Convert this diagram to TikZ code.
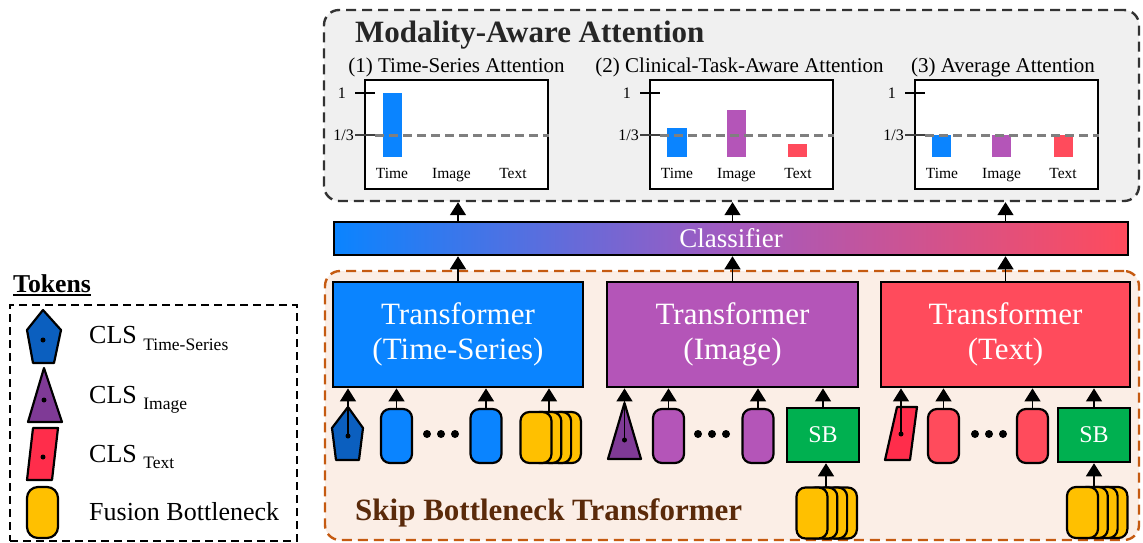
\documentclass[tikz,border=0pt]{standalone}
\usepackage{fontspec}
\setmainfont{Liberation Serif}
\usetikzlibrary{arrows.meta,calc}
\definecolor{tsblue}{HTML}{0A84FF}
\definecolor{impurple}{HTML}{B455B8}
\definecolor{txred}{HTML}{FF4B5C}
\definecolor{pentblue}{HTML}{0B5FBF}
\definecolor{tripurple}{HTML}{7F3A96}
\definecolor{parared}{HTML}{FF2D4B}
\definecolor{fbyellow}{HTML}{FFC000}
\definecolor{sbgreen}{HTML}{00B050}
\definecolor{mabg}{HTML}{F0F0F0}
\definecolor{sbtbg}{HTML}{FBEEE6}
\definecolor{sbtline}{HTML}{C55A11}
\definecolor{sbttext}{HTML}{5A2A0A}
\definecolor{dashgray}{HTML}{7F7F7F}
\newcommand{\fsz}[1]{\fontsize{#1}{#1}\selectfont}
\newcommand{\attchart}[2]{%
  \node[chartbox] (#1) at (#2+91.5,134) {};
}
\newcommand{\attaxes}[2]{%
  \draw[dashgray, line width=3, dash pattern=on 9pt off 5pt] (#2+10,135) -- (#1.east |- 0,135);
  \draw[line width=1.3] (#2-10,93) -- (#2+10,93);
  \draw[line width=1.3, black!75] (#2-10,135) -- (#2+10,135);
  \node[lab, anchor=east, font=\fsz{16}] at (#2-19,93) {1};
  \node[lab, anchor=east, font=\fsz{16}] at (#2-11,135) {1/3};
  \node[lab, anchor=base] at (#2+27,178) {Time};
  \node[lab, anchor=base] at (#2+86.5,178) {Image};
  \node[lab, anchor=base] at (#2+148,178) {Text};
}
\begin{document}
\begin{tikzpicture}[x=1pt,y=-1pt,
  arr/.style={line width=1.4, -{Triangle[width=16pt,length=13pt]}},
  tok/.style={draw, line width=2.2, rounded corners=9, minimum width=31, minimum height=54, inner sep=0},
  fbtok/.style={tok, fill=fbyellow, minimum height=51},
  shapeln/.style={draw=black, line width=2.2, line join=round},
  trbox/.style={draw, line width=2.8, minimum height=105, inner sep=0, text=white, align=center, font=\fsz{31}},
  sbbox/.style={draw, line width=2.5, fill=sbgreen, minimum width=72, minimum height=54, text=white, font=\fsz{24}, inner sep=0},
  chartbox/.style={draw, line width=2, fill=white, minimum width=183, minimum height=109, inner sep=0},
  lab/.style={inner sep=0, font=\fsz{15.5}},
  ttl/.style={inner sep=0, font=\fsz{21}},
]
\useasboundingbox (0,0) rectangle (1143,542);

% ---------- legend ----------
\node[inner sep=0, anchor=base west, font=\fsz{25.7}\bfseries] (tokttl) at (13,292) {Tokens};
\draw[line width=2] ($(tokttl.base west)+(0,3)$) -- ($(tokttl.base east)+(0,3)$);
\node[draw, line width=2.4, dash pattern=on 8pt off 5pt, minimum width=287, minimum height=236, inner sep=0] (legbox) at (153.5,423) {};
\draw[shapeln, fill=pentblue] (27,330) -- (43,310) -- (61,330) -- (54,363) -- (33,363) -- cycle;
\fill (43,340) circle (2.5);
\draw[shapeln, fill=tripurple] (28,422) -- (44,368) -- (62,422) -- cycle;
\fill (44,400) circle (2.5);
\draw[shapeln, fill=parared] (33,428) -- (58,428) -- (52,480) -- (27,480) -- cycle;
\fill (43,457) circle (2.5);
\node[fbtok, minimum height=51, rounded corners=11] (legfb) at (42.5,512.5) {};
\node[inner sep=0, anchor=base west, font=\fsz{26}] (l1) at (89,343) {CLS \raisebox{-7pt}{\fsz{17.5}Time-Series}};
\node[inner sep=0, anchor=base west, font=\fsz{26}] (l2) at (89,403) {CLS \raisebox{-6pt}{\fsz{17.5}Image}};
\node[inner sep=0, anchor=base west, font=\fsz{26}] (l3) at (89,462) {CLS \raisebox{-6pt}{\fsz{17.5}Text}};
\node[inner sep=0, anchor=base west, font=\fsz{26}] (l4) at (89,520) {Fusion Bottleneck};

% ---------- Modality-aware attention ----------
\node[draw=black!80, fill=mabg, line width=2.4, dash pattern=on 10pt off 6pt, rounded corners=15, minimum width=815, minimum height=191, inner sep=0] (mabox) at (731.5,105.5) {};
\node[inner sep=0, anchor=base west, font=\fsz{31}\bfseries, text=black!85] (mattl) at (355,42) {Modality-Aware Attention};
\node[ttl, anchor=base] (t1) at (456.5,72) {(1) Time-Series Attention};
\node[ttl, anchor=base] (t2) at (739.5,72) {(2) Clinical-Task-Aware Attention};
\node[ttl, anchor=base] (t3) at (1003,72) {(3) Average Attention};

\attchart{ch1}{365}
\attchart{ch2}{650}
\attchart{ch3}{915}
% bars
\fill[tsblue] (383,93) rectangle (402,157);
\fill[tsblue] (667,128) rectangle (687,157);
\fill[impurple] (727,110) rectangle (746,157);
\fill[txred] (788,144) rectangle (807,157);
\fill[tsblue] (932,135) rectangle (951,157);
\fill[impurple] (992,135) rectangle (1011,157);
\fill[txred] (1054,135) rectangle (1073,157);
\attaxes{ch1}{365}
\attaxes{ch2}{650}
\attaxes{ch3}{915}

% ---------- Skip bottleneck transformer ----------
\node[draw=sbtline, fill=sbtbg, line width=2.4, dash pattern=on 10pt off 6pt, rounded corners=15, minimum width=814, minimum height=269, inner sep=0] (sbtbox) at (732,405.5) {};
\node[inner sep=0, anchor=base west, font=\fsz{31}\bfseries, text=sbttext] (sbttl) at (355,520) {Skip Bottleneck Transformer};

% classifier
\node[draw, line width=2.5, left color=tsblue, right color=txred, middle color=impurple!90!tsblue, minimum width=794, minimum height=33, inner sep=0, text=white, font=\fsz{27}] (cls) at (731,238.5) {Classifier};

% transformers
\node[trbox, fill=tsblue, minimum width=250] (trts) at (458,334.5) {Transformer\\[4pt](Time-Series)};
\node[trbox, fill=impurple, minimum width=251] (trim) at (732.5,334.5) {Transformer\\[4pt](Image)};
\node[trbox, fill=txred, minimum width=249] (trtx) at (1005.5,334.5) {Transformer\\[4pt](Text)};

% arrows transformer -> classifier -> charts
\draw[arr] (trts.north) -- (cls.south -| trts.north);
\draw[arr] (trim.north) -- (cls.south -| trim.north);
\draw[arr] (trtx.north) -- (cls.south -| trtx.north);
\draw[arr] (cls.north -| trts.north) -- (mabox.south -| trts.north);
\draw[arr] (cls.north -| trim.north) -- (mabox.south -| trim.north);
\draw[arr] (cls.north -| trtx.north) -- (mabox.south -| trtx.north);

% --- time-series tokens ---
\draw[shapeln, fill=pentblue] (332,428) -- (348,407) -- (363,428) -- (359,460) -- (336,460) -- cycle;
\coordinate (pdot) at (348,436);
\fill (pdot) circle (2.5);
\draw[arr] (pdot) -- (trts.south -| pdot);
\node[tok, fill=tsblue] (ts1) at (396.5,436) {};
\node[tok, fill=tsblue] (ts2) at (486,436) {};
\fill (427,434) circle (4) (441,434) circle (4) (455,434) circle (4);
\foreach \k in {3,2,1,0} { \node[fbtok] (tsfb\k) at (536+\k*9.8,437.5) {}; }
\coordinate (tsfbtop) at (549,412);
\draw[arr] (ts1.north) -- (trts.south -| ts1.north);
\draw[arr] (ts2.north) -- (trts.south -| ts2.north);
\draw[arr] (tsfbtop) -- (trts.south -| tsfbtop);

% --- image tokens ---
\draw[shapeln, fill=tripurple] (608,459) -- (624.5,403) -- (641,459) -- cycle;
\coordinate (tdot) at (624.5,440);
\fill (tdot) circle (2.5);
\draw[arr] (tdot) -- (trim.south -| tdot);
\node[tok, fill=impurple] (im1) at (668.5,436) {};
\node[tok, fill=impurple] (im2) at (758,436) {};
\fill (698,434) circle (4) (712,434) circle (4) (726,434) circle (4);
\node[sbbox] (sbim) at (823,435) {SB};
\foreach \k in {3,2,1,0} { \node[fbtok] (imfb\k) at (812+\k*9.8,513) {}; }
\coordinate (imfbtop) at (826,487.5);
\draw[arr] (im1.north) -- (trim.south -| im1.north);
\draw[arr] (im2.north) -- (trim.south -| im2.north);
\draw[arr] (sbim.north) -- (trim.south -| sbim.north);
\draw[arr] (imfbtop) -- (sbim.south -| imfbtop);

% --- text tokens ---
\draw[shapeln, fill=parared] (897,407) -- (917,407) -- (910,460) -- (885,460) -- cycle;
\coordinate (qdot) at (901,434);
\fill (qdot) circle (2.5);
\draw[arr] (qdot) -- (trtx.south -| qdot);
\node[tok, fill=txred] (tx1) at (943.5,436) {};
\node[tok, fill=txred] (tx2) at (1032.5,436) {};
\fill (975,434) circle (4) (989,434) circle (4) (1003,434) circle (4);
\node[sbbox] (sbtx) at (1094,435) {SB};
\foreach \k in {3,2,1,0} { \node[fbtok] (txfb\k) at (1082.5+\k*9.8,512.5) {}; }
\coordinate (txfbtop) at (1094,487);
\draw[arr] (tx1.north) -- (trtx.south -| tx1.north);
\draw[arr] (tx2.north) -- (trtx.south -| tx2.north);
\draw[arr] (sbtx.north) -- (trtx.south -| sbtx.north);
\draw[arr] (txfbtop) -- (sbtx.south -| txfbtop);
\end{tikzpicture}
\end{document}
